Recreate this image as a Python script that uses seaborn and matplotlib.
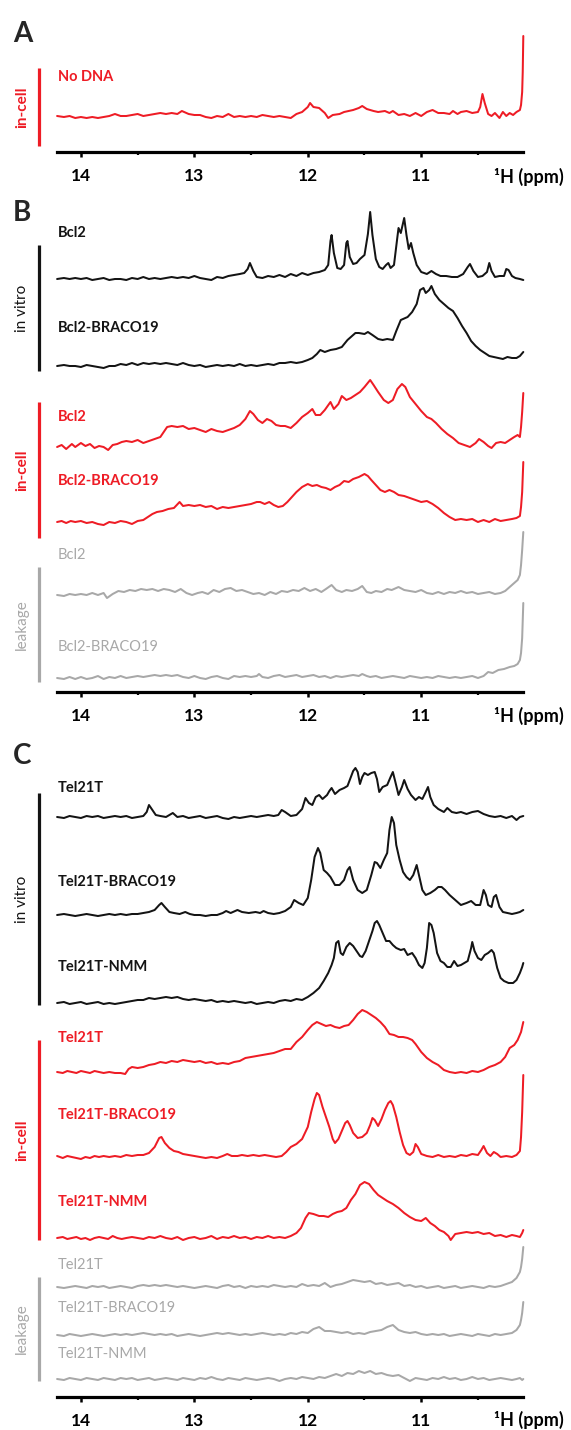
import numpy as np
import pandas as pd
import matplotlib
matplotlib.use("Agg")
import matplotlib.pyplot as plt
from matplotlib.lines import Line2D
import seaborn as sns

sns.set_theme(style="white")
plt.rcParams['font.family'] = ['Lato', 'DejaVu Sans']

RED = "#ee1c25"
BLACK = "#141414"
GREY = "#a8a8a8"

# ---------------- data: (ppm, relative intensity) ----------------
nodna_incell = [(14.21,1),(14.15,0),(14.1,1),(14.05,-1),(14.0,0),(13.95,-1),(13.9,0),(13.85,-1),(13.8,0),(13.75,1),
    (13.7,3),(13.65,1),(13.6,1),(13.55,2),(13.5,3),(13.45,1),(13.4,2),(13.35,3),(13.3,4),(13.25,3),(13.2,4),(13.15,3),
    (13.11,6),(13.05,3),(13.0,2),(12.95,2),(12.9,0),(12.85,-1),(12.8,1),(12.75,0),(12.7,3),(12.65,0),(12.6,1),(12.55,0),
    (12.5,1),(12.45,0),(12.4,2),(12.35,1),(12.3,0),(12.25,1),(12.2,0),(12.15,-1),(12.1,3),(12.05,5),(12.0,10),(11.98,14),
    (11.95,10),(11.9,9),(11.85,4),(11.82,-1),(11.78,2),(11.72,3),(11.68,5),(11.6,7),(11.55,9),(11.52,11),(11.48,8),
    (11.42,6),(11.38,5),(11.32,6),(11.28,4),(11.25,6),(11.2,2),(11.15,3),(11.1,1),(11.05,4),(11.0,1),(10.95,5),(10.9,7),
    (10.85,4),(10.8,4),(10.75,3),(10.72,6),(10.68,3),(10.65,5),(10.6,6),(10.55,4),(10.5,5),(10.48,10),(10.46,23),
    (10.44,14),(10.41,3),(10.38,1),(10.35,4),(10.31,-1),(10.28,5),(10.25,1),(10.22,4),(10.19,2),(10.16,5),(10.13,7),
    (10.12,12),(10.11,25),(10.105,45),(10.1,81)]

bcl2_vitro = [(14.21,0),(14.15,1),(14.1,0),(14.05,1),(14.0,0),(13.95,1),(13.9,-1),(13.85,0),(13.8,1),(13.75,-1),(13.7,0),
    (13.65,0),(13.6,-1),(13.55,1),(13.5,0),(13.45,2),(13.4,0),(13.35,1),(13.3,0),(13.25,1),(13.2,2),(13.15,1),(13.1,2),
    (13.05,1),(13.0,3),(12.95,1),(12.9,0),(12.85,-1),(12.8,2),(12.75,1),(12.7,3),(12.65,4),(12.6,5),(12.56,6),(12.53,10),
    (12.51,16),(12.48,8),(12.45,2),(12.4,1),(12.35,3),(12.3,2),(12.25,4),(12.2,2),(12.15,5),(12.1,3),(12.05,6),(12.0,4),
    (11.95,6),(11.9,7),(11.85,9),(11.82,14),(11.8,38),(11.79,44),(11.77,26),(11.74,11),(11.71,10),(11.68,14),(11.66,36),
    (11.65,38),(11.63,22),(11.6,15),(11.57,16),(11.54,20),(11.5,24),(11.47,45),(11.45,67),(11.43,44),(11.4,20),(11.37,12),
    (11.34,10),(11.31,14),(11.29,16),(11.27,11),(11.24,14),(11.21,42),(11.2,51),(11.18,46),(11.15,61),(11.13,44),
    (11.11,30),(11.09,36),(11.07,26),(11.04,14),(11.0,7),(10.95,5),(10.91,8),(10.87,5),(10.83,3),(10.78,3),(10.73,2),
    (10.68,2),(10.63,5),(10.59,12),(10.57,15),(10.54,8),(10.5,2),(10.46,3),(10.42,7),(10.4,16),(10.38,8),(10.35,2),
    (10.31,3),(10.27,3),(10.25,10),(10.23,9),(10.2,3),(10.17,1),(10.13,0),(10.1,-1)]

bcl2_braco_vitro = [(14.21,0),(14.15,1),(14.1,0),(14.05,0),(14.0,-1),(13.95,1),(13.9,0),(13.85,-1),(13.8,-2),(13.75,0),
    (13.7,0),(13.65,2),(13.6,1),(13.55,3),(13.5,1),(13.45,3),(13.4,2),(13.35,3),(13.3,2),(13.25,3),(13.2,2),(13.15,1),
    (13.1,3),(13.05,1),(13.0,0),(12.95,1),(12.9,-1),(12.85,0),(12.8,1),(12.75,0),(12.7,1),(12.65,0),(12.6,2),(12.55,0),
    (12.5,1),(12.45,0),(12.4,1),(12.35,2),(12.3,1),(12.25,3),(12.2,3),(12.15,4),(12.1,3),(12.05,4),(12.0,6),(11.96,8),
    (11.92,12),(11.89,16),(11.85,14),(11.8,16),(11.75,17),(11.7,19),(11.65,26),(11.6,31),(11.58,33),(11.55,33),(11.5,32),
    (11.47,34),(11.43,31),(11.38,27),(11.34,26),(11.3,27),(11.25,26),(11.22,35),(11.18,46),(11.12,49),(11.08,54),
    (11.04,62),(11.01,76),(10.98,78),(10.96,73),(10.93,76),(10.91,80),(10.88,72),(10.84,66),(10.8,62),(10.76,58),
    (10.72,55),(10.68,48),(10.64,40),(10.6,33),(10.56,25),(10.52,20),(10.48,16),(10.44,13),(10.4,10),(10.36,9),
    (10.32,8),(10.28,7),(10.24,9),(10.2,8),(10.16,8),(10.13,10),(10.1,14)]

bcl2_incell = [(14.21,0),(14.17,2),(14.13,-2),(14.08,3),(14.05,0),(14.0,4),(13.96,1),(13.92,3),(13.88,-1),(13.84,1),
    (13.8,0),(13.76,-3),(13.72,2),(13.68,3),(13.64,5),(13.6,6),(13.55,5),(13.5,7),(13.45,4),(13.4,6),(13.35,8),(13.3,10),
    (13.27,15),(13.24,20),(13.2,21),(13.15,20),(13.1,21),(13.05,18),(13.0,19),(12.95,17),(12.9,15),(12.85,18),(12.8,16),
    (12.75,15),(12.7,17),(12.65,19),(12.6,22),(12.55,28),(12.51,36),(12.48,33),(12.44,27),(12.4,24),(12.36,28),
    (12.32,26),(12.28,22),(12.24,21),(12.2,21),(12.15,19),(12.1,24),(12.05,30),(12.0,34),(11.96,38),(11.93,32),
    (11.89,32),(11.85,37),(11.8,45),(11.77,38),(11.73,43),(11.7,51),(11.66,47),(11.62,49),(11.58,52),(11.54,55),
    (11.5,60),(11.45,67),(11.42,62),(11.38,55),(11.33,47),(11.29,44),(11.25,47),(11.21,58),(11.17,63),(11.14,60),
    (11.1,50),(11.05,43),(11.0,36),(10.95,30),(10.91,28),(10.87,24),(10.82,18),(10.77,13),(10.72,9),(10.67,4),
    (10.62,2),(10.57,0),(10.52,4),(10.49,8),(10.45,5),(10.41,1),(10.38,-1),(10.34,4),(10.3,5),(10.26,4),(10.22,7),
    (10.18,10),(10.15,12),(10.13,10),(10.12,20),(10.11,35),(10.1,54)]

bcl2_braco_incell = [(14.21,0),(14.17,1),(14.13,-1),(14.09,1),(14.05,0),(14.0,1),(13.95,-1),(13.9,0),(13.85,-2),
    (13.8,-3),(13.75,0),(13.7,-1),(13.65,1),(13.6,0),(13.55,-2),(13.5,1),(13.45,2),(13.41,5),(13.37,8),(13.33,10),
    (13.28,11),(13.23,13),(13.18,14),(13.13,20),(13.1,16),(13.05,17),(13.0,16),(12.95,17),(12.9,15),(12.85,16),
    (12.8,13),(12.75,15),(12.7,14),(12.65,15),(12.6,16),(12.55,17),(12.5,18),(12.45,20),(12.42,20),(12.38,18),
    (12.34,20),(12.3,17),(12.26,15),(12.22,16),(12.18,20),(12.14,25),(12.1,30),(12.05,35),(12.0,38),(11.96,36),
    (11.92,37),(11.88,35),(11.84,34),(11.8,32),(11.76,35),(11.72,37),(11.68,41),(11.64,40),(11.6,43),(11.55,45),
    (11.5,48),(11.47,46),(11.44,42),(11.4,37),(11.36,32),(11.32,30),(11.28,32),(11.24,30),(11.2,27),(11.15,26),
    (11.1,24),(11.05,22),(11.0,20),(10.95,21),(10.9,18),(10.85,14),(10.8,9),(10.75,5),(10.7,2),(10.65,3),(10.6,2),
    (10.55,3),(10.5,0),(10.45,2),(10.4,0),(10.35,3),(10.3,1),(10.25,2),(10.2,3),(10.16,4),(10.13,6),(10.12,15),
    (10.11,30),(10.1,60)]

bcl2_leak = [(14.21,0),(14.15,-1),(14.1,1),(14.05,0),(14.0,1),(13.95,0),(13.9,2),(13.85,0),(13.8,2),(13.77,-3),
    (13.72,1),(13.67,4),(13.62,3),(13.57,5),(13.52,4),(13.47,6),(13.42,5),(13.37,6),(13.32,4),(13.27,6),(13.22,5),
    (13.17,3),(13.12,6),(13.07,2),(13.02,0),(12.97,2),(12.93,3),(12.88,1),(12.83,5),(12.78,3),(12.73,6),(12.68,7),
    (12.63,4),(12.58,5),(12.53,3),(12.48,1),(12.43,2),(12.38,0),(12.33,3),(12.28,1),(12.23,4),(12.18,3),(12.13,5),
    (12.08,4),(12.03,7),(11.98,4),(11.93,6),(11.88,3),(11.84,6),(11.79,10),(11.75,5),(11.7,3),(11.66,5),(11.61,4),
    (11.56,6),(11.52,9),(11.48,3),(11.44,2),(11.4,4),(11.35,3),(11.3,6),(11.26,5),(11.2,8),(11.15,5),(11.1,4),(11.05,3),
    (11.0,5),(10.95,2),(10.9,1),(10.85,3),(10.8,1),(10.75,3),(10.7,2),(10.65,4),(10.6,2),(10.55,3),(10.5,1),(10.45,2),
    (10.4,3),(10.35,1),(10.3,2),(10.26,4),(10.22,8),(10.18,12),(10.15,15),(10.13,20),(10.12,30),(10.11,45),(10.1,63)]

bcl2_braco_leak = [(14.21,0),(14.15,-1),(14.1,1),(14.05,-1),(14.0,1),(13.95,-1),(13.9,0),(13.85,2),(13.8,-1),(13.75,1),
    (13.7,0),(13.65,2),(13.6,0),(13.55,1),(13.5,2),(13.45,1),(13.4,2),(13.35,3),(13.3,2),(13.25,3),(13.2,2),(13.15,3),
    (13.1,1),(13.05,0),(13.0,2),(12.95,0),(12.9,-1),(12.85,1),(12.8,2),(12.75,0),(12.7,-1),(12.65,2),(12.6,1),(12.55,2),
    (12.5,1),(12.45,2),(12.43,4),(12.4,1),(12.35,0),(12.3,2),(12.25,3),(12.2,1),(12.15,2),(12.1,3),(12.05,1),(12.0,2),
    (11.95,3),(11.9,1),(11.85,2),(11.8,0),(11.75,2),(11.7,1),(11.65,2),(11.6,3),(11.55,2),(11.52,4),(11.48,2),(11.45,1),
    (11.4,2),(11.35,0),(11.3,1),(11.25,2),(11.2,1),(11.15,0),(11.1,2),(11.05,1),(11.0,0),(10.95,1),(10.9,0),(10.85,2),
    (10.8,1),(10.75,0),(10.7,1),(10.65,0),(10.6,1),(10.55,2),(10.5,0),(10.45,2),(10.41,6),(10.37,5),(10.32,8),(10.27,9),
    (10.22,11),(10.18,12),(10.15,14),(10.13,18),(10.12,25),(10.11,40),(10.1,75)]

tel_vitro = [(14.21,0),(14.15,-1),(14.1,1),(14.05,0),(14.0,-1),(13.95,1),(13.9,0),(13.85,1),(13.8,-1),(13.75,0),(13.7,1),
    (13.65,0),(13.6,1),(13.55,-1),(13.5,0),(13.45,1),(13.42,5),(13.4,12),(13.37,7),(13.34,2),(13.3,1),(13.25,0),(13.19,4),
    (13.15,0),(13.1,1),(13.05,-1),(13.0,0),(12.95,1),(12.9,-1),(12.85,0),(12.8,1),(12.75,-1),(12.7,-2),(12.65,0),
    (12.6,-1),(12.55,0),(12.5,1),(12.45,0),(12.4,1),(12.35,2),(12.3,1),(12.26,2),(12.23,7),(12.2,5),(12.15,1),(12.1,2),
    (12.05,8),(12.02,19),(11.99,14),(11.96,12),(11.93,20),(11.9,22),(11.87,18),(11.83,22),(11.81,26),(11.79,29),
    (11.76,23),(11.72,27),(11.68,29),(11.65,31),(11.62,40),(11.6,46),(11.58,49),(11.56,45),(11.54,33),(11.52,40),
    (11.5,44),(11.47,42),(11.44,44),(11.41,45),(11.39,38),(11.37,25),(11.34,30),(11.3,32),(11.27,40),(11.25,45),
    (11.23,36),(11.2,22),(11.17,30),(11.15,37),(11.12,28),(11.09,22),(11.05,17),(11.02,20),(10.99,18),(10.96,25),
    (10.94,30),(10.92,20),(10.89,12),(10.85,8),(10.8,5),(10.77,9),(10.73,5),(10.69,4),(10.65,5),(10.6,3),(10.55,5),
    (10.5,6),(10.45,3),(10.4,1),(10.35,0),(10.3,1),(10.25,-1),(10.2,1),(10.16,-3),(10.13,0),(10.1,1)]

tel_braco_vitro = [(14.21,0),(14.15,1),(14.1,0),(14.05,-1),(14.0,0),(13.95,1),(13.9,0),(13.85,-1),(13.8,0),(13.75,1),
    (13.7,0),(13.65,1),(13.6,0),(13.55,1),(13.5,1),(13.45,2),(13.4,3),(13.35,5),(13.31,10),(13.29,12),(13.26,8),
    (13.22,3),(13.18,2),(13.13,1),(13.08,3),(13.04,1),(13.0,0),(12.95,0),(12.9,-1),(12.85,0),(12.8,0),(12.75,2),
    (12.72,4),(12.68,2),(12.62,5),(12.58,3),(12.52,2),(12.46,3),(12.42,2),(12.39,4),(12.35,2),(12.3,1),(12.25,2),
    (12.2,4),(12.15,8),(12.12,15),(12.08,12),(12.04,10),(12.0,17),(11.97,35),(11.94,58),(11.91,67),(11.89,62),
    (11.86,45),(11.83,42),(11.8,38),(11.76,30),(11.72,30),(11.68,35),(11.65,45),(11.63,48),(11.6,35),(11.56,25),
    (11.52,22),(11.48,25),(11.44,40),(11.41,53),(11.39,52),(11.36,47),(11.33,55),(11.3,62),(11.28,85),(11.26,98),
    (11.24,92),(11.22,70),(11.19,55),(11.16,43),(11.13,38),(11.1,35),(11.07,40),(11.04,50),(11.02,40),(10.99,25),
    (10.96,20),(10.92,22),(10.88,25),(10.85,28),(10.82,28),(10.79,25),(10.75,20),(10.7,15),(10.65,10),(10.6,12),
    (10.56,14),(10.52,10),(10.48,10),(10.45,25),(10.43,20),(10.41,10),(10.38,8),(10.36,18),(10.34,20),(10.31,8),
    (10.28,3),(10.24,2),(10.2,1),(10.16,2),(10.13,3),(10.1,5)]

tel_nmm_vitro = [(14.21,0),(14.15,1),(14.1,-1),(14.05,0),(14.0,1),(13.95,-1),(13.9,0),(13.85,1),(13.8,-1),(13.75,0),
    (13.7,-1),(13.65,0),(13.6,1),(13.55,2),(13.5,3),(13.45,3),(13.4,5),(13.35,4),(13.3,5),(13.25,6),(13.2,5),(13.15,6),
    (13.1,4),(13.05,3),(13.0,4),(12.95,3),(12.9,2),(12.85,3),(12.8,1),(12.75,2),(12.7,1),(12.65,2),(12.6,1),(12.55,0),
    (12.5,1),(12.45,-1),(12.4,0),(12.35,1),(12.3,0),(12.25,2),(12.2,3),(12.15,2),(12.1,4),(12.05,3),(12.0,6),(11.95,10),
    (11.9,15),(11.86,22),(11.82,30),(11.79,38),(11.77,45),(11.75,60),(11.73,62),(11.71,50),(11.69,48),(11.66,56),
    (11.63,60),(11.6,57),(11.57,52),(11.54,47),(11.52,46),(11.49,52),(11.46,62),(11.43,72),(11.41,80),(11.39,82),
    (11.37,78),(11.34,70),(11.31,62),(11.28,62),(11.25,58),(11.22,55),(11.18,53),(11.15,54),(11.12,48),(11.08,50),
    (11.05,45),(11.02,38),(10.99,35),(10.97,40),(10.95,55),(10.93,80),(10.91,78),(10.89,70),(10.86,50),(10.83,42),
    (10.8,40),(10.77,36),(10.74,36),(10.71,42),(10.68,37),(10.65,38),(10.62,40),(10.59,42),(10.56,55),(10.55,61),
    (10.53,52),(10.5,45),(10.47,43),(10.44,48),(10.41,50),(10.38,53),(10.36,50),(10.33,35),(10.3,25),(10.27,22),
    (10.23,20),(10.19,20),(10.16,23),(10.13,30),(10.11,36),(10.1,40)]

tel_incell = [(14.21,0),(14.16,-1),(14.12,1),(14.08,0),(14.04,-1),(14.0,1),(13.96,0),(13.92,-1),(13.88,1),(13.84,0),
    (13.8,-1),(13.75,0),(13.7,-1),(13.65,-1),(13.61,-2),(13.58,3),(13.55,5),(13.5,4),(13.45,5),(13.4,7),(13.35,8),
    (13.3,10),(13.25,9),(13.2,11),(13.15,10),(13.1,12),(13.05,11),(13.0,10),(12.95,11),(12.9,9),(12.85,10),(12.8,8),
    (12.75,9),(12.7,8),(12.65,10),(12.6,11),(12.55,14),(12.5,15),(12.45,16),(12.4,17),(12.35,18),(12.3,19),(12.25,21),
    (12.2,23),(12.15,23),(12.1,30),(12.05,35),(12.0,42),(11.96,47),(11.92,50),(11.88,48),(11.84,46),(11.8,47),
    (11.76,45),(11.72,44),(11.68,46),(11.64,47),(11.6,52),(11.56,58),(11.52,62),(11.48,60),(11.44,57),(11.4,54),
    (11.36,50),(11.32,45),(11.28,38),(11.24,37),(11.2,35),(11.16,35),(11.12,34),(11.08,32),(11.05,28),(11.0,20),
    (10.95,14),(10.9,10),(10.85,7),(10.8,2),(10.75,0),(10.7,-1),(10.65,0),(10.6,-1),(10.55,1),(10.5,0),(10.45,2),
    (10.4,5),(10.35,7),(10.3,10),(10.26,15),(10.22,24),(10.18,27),(10.15,32),(10.12,40),(10.1,50)]

tel_braco_incell = [(14.21,1),(14.16,-1),(14.12,1),(14.08,0),(14.04,-1),(14.0,-2),(13.96,0),(13.92,-1),(13.88,1),
    (13.84,0),(13.8,1),(13.75,0),(13.7,1),(13.65,0),(13.6,2),(13.55,1),(13.5,2),(13.45,2),(13.4,4),(13.35,10),
    (13.31,19),(13.29,20),(13.26,14),(13.22,9),(13.18,6),(13.14,5),(13.1,3),(13.05,2),(13.0,1),(12.95,0),(12.9,-1),
    (12.85,0),(12.8,-1),(12.75,1),(12.71,3),(12.67,1),(12.62,1),(12.58,2),(12.53,1),(12.48,2),(12.43,1),(12.38,2),
    (12.33,1),(12.28,0),(12.23,1),(12.19,5),(12.15,10),(12.1,13),(12.05,18),(12.0,30),(11.97,45),(11.94,58),(11.92,64),
    (11.9,62),(11.87,50),(11.84,40),(11.81,30),(11.78,18),(11.76,14),(11.73,18),(11.7,26),(11.67,34),(11.65,36),
    (11.63,32),(11.6,24),(11.56,19),(11.52,20),(11.48,24),(11.45,32),(11.43,39),(11.41,37),(11.38,31),(11.35,38),
    (11.32,47),(11.29,54),(11.27,56),(11.25,52),(11.22,40),(11.19,25),(11.16,12),(11.13,4),(11.1,2),(11.07,5),
    (11.05,13),(11.03,10),(11.0,3),(10.95,1),(10.9,0),(10.85,2),(10.8,0),(10.75,1),(10.7,0),(10.65,2),(10.6,1),
    (10.55,3),(10.5,2),(10.47,7),(10.45,11),(10.42,4),(10.39,1),(10.36,5),(10.33,3),(10.3,0),(10.25,1),(10.2,0),
    (10.16,2),(10.13,6),(10.12,20),(10.11,45),(10.1,82)]

tel_nmm_incell = [(14.21,0),(14.16,1),(14.12,-1),(14.08,0),(14.04,1),(14.0,-1),(13.96,0),(13.92,-2),(13.88,0),(13.84,1),
    (13.8,0),(13.76,-1),(13.72,2),(13.68,0),(13.64,-1),(13.6,0),(13.55,1),(13.5,0),(13.45,-1),(13.4,1),(13.35,0),
    (13.3,2),(13.25,0),(13.2,-1),(13.15,1),(13.1,-2),(13.05,0),(13.0,1),(12.95,-1),(12.9,0),(12.85,2),(12.8,-1),
    (12.75,1),(12.7,0),(12.65,2),(12.6,0),(12.55,1),(12.5,-1),(12.45,1),(12.4,0),(12.35,2),(12.3,0),(12.25,1),(12.2,0),
    (12.15,2),(12.1,5),(12.06,10),(12.02,20),(11.99,25),(11.95,24),(11.9,22),(11.86,22),(11.82,21),(11.78,24),
    (11.74,26),(11.7,27),(11.66,30),(11.62,38),(11.58,44),(11.54,53),(11.5,56),(11.46,54),(11.42,48),(11.38,43),
    (11.34,40),(11.3,37),(11.25,34),(11.2,30),(11.15,25),(11.1,21),(11.05,18),(11.0,17),(10.96,20),(10.92,15),
    (10.88,12),(10.84,8),(10.8,6),(10.76,2),(10.74,-2),(10.7,4),(10.65,5),(10.6,6),(10.55,5),(10.5,6),(10.45,4),
    (10.4,5),(10.35,2),(10.3,3),(10.25,1),(10.2,3),(10.16,2),(10.13,1),(10.11,5),(10.1,8)]

leak_c_ppm = [14.21,14.15,14.1,14.05,14.0,13.95,13.9,13.85,13.8,13.75,13.7,13.65,13.6,13.55,13.5,13.45,13.4,13.35,
    13.3,13.25,13.2,13.15,13.1,13.05,13.0,12.95,12.9,12.85,12.8,12.75,12.7,12.65,12.6,12.55,12.5,12.45,12.4,12.35,
    12.3,12.25,12.2,12.15,12.1,12.05,12.0,11.95,11.9,11.85,11.8,11.75,11.7,11.65,11.6,11.55,11.5,11.45,11.4,11.35,
    11.3,11.25,11.2,11.15,11.1,11.05,11.0,10.95,10.9,10.85,10.8,10.75,10.7,10.65,10.6,10.55,10.5,10.45,10.4,10.35,
    10.3,10.25,10.2,10.16,10.13,10.12,10.11,10.1]
tel_leak_int = [0,-1,0,1,0,-1,1,0,1,-1,0,1,0,-1,1,2,1,2,1,2,1,0,1,0,-1,0,1,0,-1,1,2,0,1,-1,1,0,1,0,2,1,0,1,0,3,1,
    2,1,4,0,2,3,5,7,6,5,6,3,4,2,3,4,1,2,0,1,-1,0,1,-1,0,1,-1,0,1,0,-1,1,0,1,3,5,9,15,20,28,40]
tel_braco_leak_int = [0,-1,1,0,-1,0,1,0,-1,0,1,0,1,0,1,2,1,0,1,0,1,-1,0,1,0,-1,0,1,2,1,2,1,0,1,0,1,2,1,0,1,0,2,1,3,2,
    6,8,4,4,3,2,3,1,2,1,3,4,5,8,10,5,3,2,3,1,0,1,0,1,-1,0,1,0,-1,1,0,-1,1,0,1,2,5,10,15,22,33]
tel_nmm_leak_int = [0,-1,1,0,-1,1,0,-1,1,0,-1,1,0,1,-1,0,1,-1,0,1,0,-1,1,0,-1,1,0,2,0,-1,1,0,-1,1,0,-1,0,1,0,-2,0,1,
    0,2,1,0,2,1,3,5,3,6,5,8,6,8,5,6,4,3,4,1,-2,1,0,-1,1,0,2,0,1,-1,0,2,0,1,-1,0,1,0,-1,0,1,0,-1,0]

# ---------------- layout (pixel positions in the 571x1430 figure) ----------------
W, H = 571, 1430
X0, X1 = 57.1, 523.3
PPM_LEFT, PPM_RIGHT = 14.21, 10.1
LABEL_X = 58
BAR_X = 38.5
GROUP_X = 22
LETTER_X = 13
PPM_LABEL_X = 494

fig = plt.figure(figsize=(W / 100, H / 100), dpi=100)


def make_axes(top_px, bottom_px):
    ax = fig.add_axes([X0 / W, 1 - bottom_px / H, (X1 - X0) / W, (bottom_px - top_px) / H])
    ax.set_facecolor('none')
    return ax


def finish_axes(ax, top_px, bottom_px):
    ax.set_xlim(PPM_LEFT, PPM_RIGHT)
    ax.set_ylim(bottom_px, top_px)
    for s in ['top', 'left', 'right']:
        ax.spines[s].set_visible(False)
    ax.spines['bottom'].set_linewidth(2.3)
    ax.spines['bottom'].set_color('black')
    ax.set_yticks([])
    ax.set_xticks([14, 13, 12, 11])
    ax.set_xticks([13.5, 12.5, 11.5, 10.5], minor=True)
    ax.set_xticklabels(['14', '13', '12', '11'], fontweight='bold', fontsize=12.5)
    ax.tick_params(axis='x', which='major', bottom=True, direction='out', length=3.5, width=1.8,
                   pad=8, colors='black')
    ax.tick_params(axis='x', which='minor', bottom=True, direction='out', length=2, width=1.6, colors='black')
    ax.set_xlabel('')
    ax.set_ylabel('')


def trace(ax, ppm, inten, base, color):
    df = pd.DataFrame({'ppm': ppm, 'y': base - np.asarray(inten, dtype=float)})
    sns.lineplot(data=df, x='ppm', y='y', ax=ax, color=color, lw=1.45, estimator=None, sort=False,
                 legend=False, clip_on=False)


def unpack(pairs):
    return [p for p, _ in pairs], [v for _, v in pairs]


def label(text, y_px, color, weight='bold'):
    fig.text(LABEL_X / W, 1 - y_px / H, text, ha='left', va='center', color=color,
             fontsize=10.5, fontweight=weight)


def group(text, y0, y1, color, weight='normal'):
    fig.add_artist(Line2D([BAR_X / W, BAR_X / W], [1 - y0 / H, 1 - y1 / H], transform=fig.transFigure,
                          color=color, lw=2.3, solid_capstyle='butt'))
    fig.text(GROUP_X / W, 1 - (y0 + y1) / 2 / H, text, rotation=90, ha='center', va='center',
             color=color, fontsize=11, fontweight=weight)


def ppm_label(y_px):
    fig.text(PPM_LABEL_X / W, 1 - y_px / H, '¹H (ppm)', ha='left', va='center', fontsize=13,
             fontweight='bold', color='black')


def letter(text, y_px):
    fig.text(LETTER_X / W, 1 - y_px / H, text, fontsize=20, fontweight='bold', va='center', ha='left')


# Panel A
axA = make_axes(20, 152)
p, v = unpack(nodna_incell)
trace(axA, p, v, 117, RED)
finish_axes(axA, 20, 152)
letter('A', 34)
label('No DNA', 77, RED)
group('in-cell', 68, 146, RED, 'bold')
ppm_label(177)

# Panel B
axB = make_axes(195, 692)
panelB = [
    (bcl2_vitro, 279, BLACK, 'Bcl2', 233, 'bold'),
    (bcl2_braco_vitro, 366, BLACK, 'Bcl2-BRACO19', 328, 'bold'),
    (bcl2_incell, 447, RED, 'Bcl2', 417, 'bold'),
    (bcl2_braco_incell, 522, RED, 'Bcl2-BRACO19', 481, 'bold'),
    (bcl2_leak, 595, GREY, 'Bcl2', 555, 'normal'),
    (bcl2_braco_leak, 678, GREY, 'Bcl2-BRACO19', 647, 'normal'),
]
for pairs, base, col, name, ly, wt in panelB:
    p, v = unpack(pairs)
    trace(axB, p, v, base, col)
    label(name, ly, col, wt)
finish_axes(axB, 195, 692)
letter('B', 213)
group('in vitro', 245, 371, BLACK)
group('in-cell', 402, 538, RED, 'bold')
group('leakage', 567, 682, GREY)
ppm_label(716)

# Panel C
axC = make_axes(755, 1397)
panelC = [
    (unpack(tel_vitro), 817, BLACK, 'Tel21T', 788, 'bold'),
    (unpack(tel_braco_vitro), 915, BLACK, 'Tel21T-BRACO19', 882, 'bold'),
    (unpack(tel_nmm_vitro), 1003, BLACK, 'Tel21T-NMM', 967, 'bold'),
    (unpack(tel_incell), 1072, RED, 'Tel21T', 1038, 'bold'),
    (unpack(tel_braco_incell), 1157, RED, 'Tel21T-BRACO19', 1115, 'bold'),
    (unpack(tel_nmm_incell), 1238, RED, 'Tel21T-NMM', 1202, 'bold'),
    ((leak_c_ppm, tel_leak_int), 1287, GREY, 'Tel21T', 1265, 'normal'),
    ((leak_c_ppm, tel_braco_leak_int), 1335, GREY, 'Tel21T-BRACO19', 1308, 'normal'),
    ((leak_c_ppm, tel_nmm_leak_int), 1379, GREY, 'Tel21T-NMM', 1354, 'normal'),
]
for (p, v), base, col, name, ly, wt in panelC:
    trace(axC, p, v, base, col)
    label(name, ly, col, wt)
finish_axes(axC, 755, 1397)
letter('C', 756)
group('in vitro', 793, 1005, BLACK)
group('in-cell', 1040, 1240, RED, 'bold')
group('leakage', 1277, 1381, GREY)
ppm_label(1420)

fig.savefig('out.png', dpi=100, facecolor='white')
